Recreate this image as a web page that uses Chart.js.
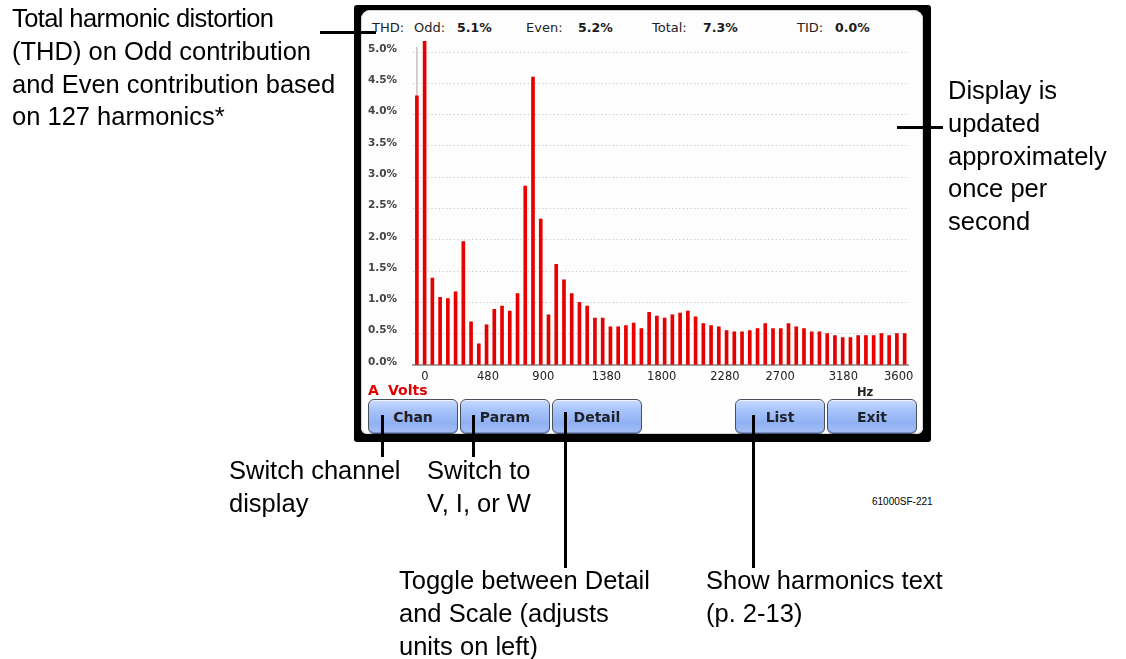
<!DOCTYPE html>
<html>
<head>
<meta charset="utf-8">
<script src="https://cdn.jsdelivr.net/npm/chart.js@4/dist/chart.umd.min.js"></script>
<style>
  html, body { margin: 0; padding: 0; background: #fff; }
  body { width: 1126px; height: 659px; position: relative; overflow: hidden; }
  .abs { position: absolute; }
  .note { position: absolute; font-family: "Liberation Sans", Arial, sans-serif; font-size: 25.5px; line-height: 32.8px; color: #000; white-space: nowrap; }
  .lead { position: absolute; background: #000; }
  .frame { left: 354px; top: 5px; width: 577px; height: 437px; background: #000; border-radius: 3px; }
  .screen { left: 361px; top: 10px; width: 562px; height: 424px; background: #fdfdfd; border-radius: 9px 9px 6px 6px; box-shadow: inset 0 0 0 1px #d4d4d4; }
  .hdr { position: absolute; top: 20px; font-family: "DejaVu Sans", sans-serif; font-size: 13px; color: #222; white-space: nowrap; }
  .hdr b { font-size: 12.5px; color: #1a1a1a; }
  .btn { position: absolute; top: 399px; width: 88px; height: 33px; border: 1px solid #4a4f5c; border-radius: 6px;
         background: linear-gradient(#c9dcff 0%, #a9c4fb 30%, #8fb0f2 70%, #a6c0f6 100%);
         box-shadow: inset 0 1px 0 #eef4ff, inset 0 -1px 0 #6f8fd6;
         font-family: "DejaVu Sans", sans-serif; font-weight: bold; font-size: 14px; color: #1e2128;
         text-align: center; line-height: 35px; }
</style>
</head>
<body>
<div class="abs frame"></div>
<div class="abs screen"></div>

<div class="hdr" style="left:372px">THD:</div>
<div class="hdr" style="left:414px">Odd:</div>
<div class="hdr" style="left:457px"><b>5.1%</b></div>
<div class="hdr" style="left:526px">Even:</div>
<div class="hdr" style="left:578px"><b>5.2%</b></div>
<div class="hdr" style="left:652px">Total:</div>
<div class="hdr" style="left:703px"><b>7.3%</b></div>
<div class="hdr" style="left:797px">TID:</div>
<div class="hdr" style="left:835px"><b>0.0%</b></div>

<canvas id="spectrum" class="abs" style="left:361px;top:30px" width="562" height="355"></canvas>

<div class="abs" style="left:368px;top:382px;font-family:'DejaVu Sans',sans-serif;font-weight:bold;font-size:14px;color:#e00000">A</div>
<div class="abs" style="left:388px;top:382px;font-family:'DejaVu Sans',sans-serif;font-weight:bold;font-size:14px;color:#e00000">Volts</div>
<div class="abs" style="left:857px;top:385px;font-family:'DejaVu Sans',sans-serif;font-weight:bold;font-size:11.5px;color:#222">Hz</div>

<div class="btn" style="left:368px">Chan</div>
<div class="btn" style="left:460px">Param</div>
<div class="btn" style="left:552px">Detail</div>
<div class="btn" style="left:735px">List</div>
<div class="btn" style="left:827px">Exit</div>

<!-- leader lines -->
<div class="lead" style="left:320px;top:31px;width:56px;height:3px"></div>
<div class="lead" style="left:897px;top:126px;width:46px;height:3px"></div>
<div class="lead" style="left:381px;top:415px;width:3px;height:42px"></div>
<div class="lead" style="left:472px;top:415px;width:3px;height:42px"></div>
<div class="lead" style="left:564px;top:412px;width:3px;height:156px"></div>
<div class="lead" style="left:752px;top:415px;width:3px;height:153px"></div>

<!-- callout text -->
<div class="note" style="left:12px;top:2px"><span style="letter-spacing:-0.6px">Total harmonic distortion</span><br>(THD) on Odd contribution<br>and Even contribution based<br>on 127 harmonics*</div>
<div class="note" style="left:948px;top:74px">Display is<br>updated<br>approximately<br>once per<br>second</div>
<div class="note" style="left:229px;top:454px">Switch channel<br>display</div>
<div class="note" style="left:427px;top:454px">Switch to<br>V, I, or W</div>
<div class="note" style="left:399px;top:564px">Toggle between Detail<br>and Scale (adjusts<br>units on left)</div>
<div class="note" style="left:706px;top:564px">Show harmonics text<br>(p. 2-13)</div>
<div class="abs" style="left:872px;top:496px;font-family:'Liberation Sans',Arial,sans-serif;font-size:10px;color:#000">61000SF-221</div>

<script>
// Harmonic order of each bar (DC through 63rd)
const harmonicOrder = Array.from({ length: 64 }, (_, i) => i);

// Magnitude of each harmonic, percent of fundamental
const harmonicPercent = [
  4.30, 5.17, 1.39, 1.08, 1.06, 1.17, 1.97, 0.69,
  0.34, 0.64, 0.89, 0.94, 0.86, 1.14, 2.86, 4.60,
  2.33, 0.80, 1.61, 1.36, 1.14, 1.00, 0.94, 0.75,
  0.75, 0.61, 0.61, 0.63, 0.67, 0.58, 0.84, 0.78,
  0.75, 0.80, 0.83, 0.86, 0.77, 0.66, 0.63, 0.61,
  0.55, 0.53, 0.53, 0.55, 0.58, 0.66, 0.58, 0.58,
  0.66, 0.61, 0.58, 0.53, 0.53, 0.50, 0.47, 0.44,
  0.44, 0.47, 0.47, 0.47, 0.50, 0.47, 0.50, 0.50
];

// Over-range marker stacked on top of the first bar
const overRange = [0.78].concat(new Array(63).fill(0));

// Axis tick values
const percentTicks = [0, 0.5, 1.0, 1.5, 2.0, 2.5, 3.0, 3.5, 4.0, 4.5, 5.0];
const hzTicks = [0, 480, 900, 1380, 1800, 2280, 2700, 3180, 3600];

Chart.defaults.font.family = "'DejaVu Sans', sans-serif";

new Chart(document.getElementById('spectrum'), {
  type: 'bar',
  data: {
    labels: harmonicOrder,
    datasets: [
      {
        data: harmonicPercent,
        backgroundColor: '#e60000',
        barThickness: 3,
        xAxisID: 'x',
        yAxisID: 'y'
      },
      {
        data: overRange,
        backgroundColor: '#c9c9c9',
        barThickness: 1,
        xAxisID: 'x',
        yAxisID: 'y'
      }
    ]
  },
  options: {
    responsive: false,
    devicePixelRatio: 1,
    animation: false,
    layout: { padding: { top: 9.5, right: 14.5, bottom: 0, left: 7 } },
    plugins: { legend: { display: false }, tooltip: { enabled: false } },
    scales: {
      x: {
        type: 'category',
        display: false,
        stacked: true,
        offset: true
      },
      hz: {
        type: 'linear',
        axis: 'x',
        position: 'bottom',
        offset: false,
        bounds: 'data',
        min: -90,
        max: 3675,
        afterBuildTicks: (scale) => { scale.ticks = hzTicks.map(v => ({ value: v })); },
        afterFit: (scale) => { scale.height = 20; },
        grid: { display: false, drawTicks: false, offset: false },
        border: { display: true, color: '#a3a3a3', width: 2 },
        ticks: {
          autoSkip: false,
          maxRotation: 0,
          padding: 5,
          color: '#222',
          font: { size: 11.5 },
          callback: (v) => String(v)
        }
      },
      y: {
        type: 'linear',
        stacked: true,
        min: 0,
        max: 5.2,
        afterBuildTicks: (scale) => { scale.ticks = percentTicks.map(v => ({ value: v })); },
        afterFit: (scale) => { scale.width = 45; },
        grid: {
          drawTicks: false,
          lineWidth: 1,
          color: (ctx) => (ctx.tick && ctx.tick.value === 0 ? 'rgba(0,0,0,0)' : '#bdbdbd')
        },
        border: { display: false, dash: [1, 2.7] },
        ticks: {
          padding: 0,
          crossAlign: 'far',
          labelOffset: -3,
          color: '#444',
          font: { size: 10.5, weight: 'bold' },
          callback: (v) => v.toFixed(1) + '%'
        }
      }
    }
  }
});
</script>
</body>
</html>
